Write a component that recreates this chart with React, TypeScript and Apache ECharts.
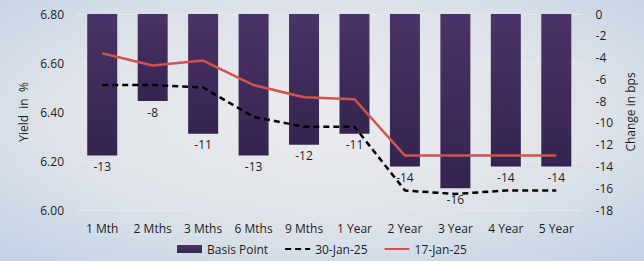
import React, { useEffect, useRef } from "react";
import * as echarts from "echarts";

const categories = ["1 Mth", "2 Mths", "3 Mths", "6 Mths", "9 Mths", "1 Year", "2 Year", "3 Year", "4 Year", "5 Year"];
const basisPoints = [-13, -8, -11, -13, -12, -11, -14, -16, -14, -14];
const yield30Jan = [6.51, 6.51, 6.5, 6.38, 6.34, 6.34, 6.08, 6.065, 6.08, 6.08];
const yield17Jan = [6.64, 6.59, 6.61, 6.51, 6.46, 6.452, 6.222, 6.222, 6.222, 6.222];
const leftTicks = [6.0, 6.2, 6.4, 6.6, 6.8];

const FONT = "Open Sans";
const TXT = "#1e1e1e";

export default function App() {
  const ref = useRef<HTMLDivElement>(null);
  useEffect(() => {
    if (!ref.current) return;
    const chart = echarts.init(ref.current, null, { renderer: "svg" });
    chart.setOption({
      animation: false,
      backgroundColor: new echarts.graphic.RadialGradient(0.5, 0.45, 0.75, [
        { offset: 0, color: "#ebebed" },
        { offset: 0.55, color: "#dfe3e9" },
        { offset: 1, color: "#bfd1e6" },
      ]),
      textStyle: { fontFamily: FONT, color: TXT },
      grid: { left: 77, right: 61, top: 14, bottom: 51, containLabel: false },
      legend: {
        bottom: 1,
        left: "center",
        itemWidth: 25,
        itemHeight: 8,
        itemGap: 16,
        textStyle: { fontFamily: FONT, fontSize: 12, color: TXT },
        data: [
          { name: "Basis Point", icon: "rect" },
          { name: "30-Jan-25", itemStyle: { opacity: 0 } },
          { name: "17-Jan-25", itemStyle: { opacity: 0 } },
        ],
      },
      xAxis: {
        type: "category",
        data: categories,
        axisLine: { show: false },
        axisTick: { show: false },
        axisLabel: { fontFamily: FONT, fontSize: 12, color: TXT, margin: 12 },
      },
      yAxis: [
        {
          type: "value",
          min: leftTicks[0],
          max: leftTicks[leftTicks.length - 1],
          interval: 0.2,
          name: "Yield  in  %",
          nameLocation: "middle",
          nameGap: 48,
          nameTextStyle: { fontFamily: FONT, fontSize: 12, color: TXT },
          axisLabel: {
            fontFamily: FONT,
            fontSize: 12,
            color: TXT,
            margin: 13,
            formatter: (v: number) => v.toFixed(2),
          },
          axisLine: { show: false },
          axisTick: { show: false },
          splitLine: { show: true, lineStyle: { color: "#e3e9f1", width: 1 } },
        },
        {
          type: "value",
          min: -18,
          max: 0,
          interval: 2,
          name: "Change in bps",
          nameLocation: "middle",
          nameGap: 37,
          nameTextStyle: { fontFamily: FONT, fontSize: 12, color: TXT },
          axisLabel: { fontFamily: FONT, fontSize: 12, color: TXT, margin: 14 },
          axisLine: { show: false },
          axisTick: { show: false },
          splitLine: { show: false },
        },
      ],
      series: [
        {
          name: "Basis Point",
          type: "bar",
          yAxisIndex: 1,
          data: basisPoints,
          barWidth: 30,
          itemStyle: {
            color: new echarts.graphic.LinearGradient(0, 0, 0, 1, [
              { offset: 0, color: "#4a3368" },
              { offset: 1, color: "#35244f" },
            ]),
          },
          label: {
            show: true,
            position: "bottom",
            distance: 5,
            fontFamily: FONT,
            fontSize: 12,
            color: TXT,
          },
          z: 1,
        },
        {
          name: "30-Jan-25",
          type: "line",
          yAxisIndex: 0,
          data: yield30Jan,
          symbol: "none",
          color: "#000000",
          lineStyle: { color: "#000000", width: 2.5, type: [6, 4] },
          z: 3,
        },
        {
          name: "17-Jan-25",
          type: "line",
          yAxisIndex: 0,
          data: yield17Jan,
          symbol: "none",
          color: "#d2524c",
          lineStyle: { color: "#d2524c", width: 2.5 },
          z: 3,
        },
      ],
    });
    return () => chart.dispose();
  }, []);
  return (
    <div
      ref={ref}
      style={{ position: "absolute", left: 0, top: 0, width: 644, height: 261 }}
    />
  );
}
